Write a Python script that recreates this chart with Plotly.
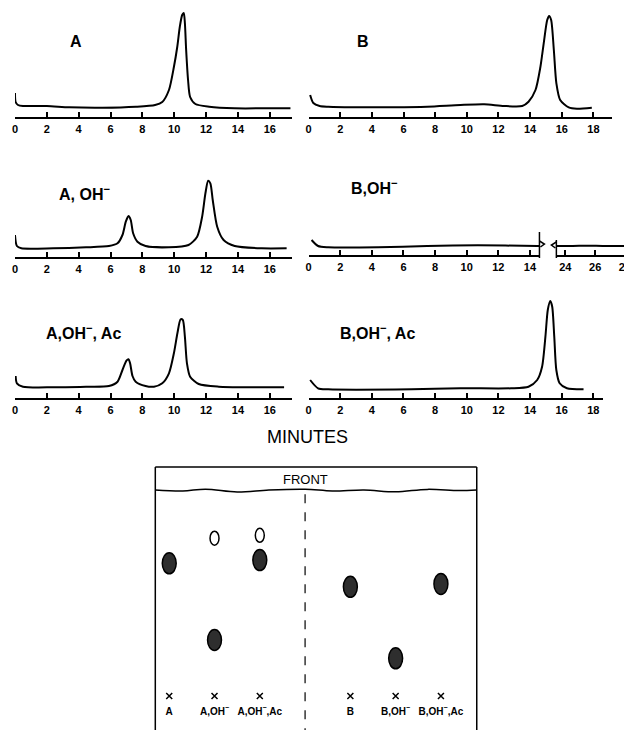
import plotly.graph_objects as go

# window is 632x730; the page body adds an 8px margin, so the figure is 624x722
OFF = 8
W, H = 632 - OFF, 730 - OFF

# ---------------- data ----------------
# Panel A
a_t = [0, 0.04, 0.19, 0.5, 2, 3.4, 5.5, 7.6, 8.8, 9.25, 9.67, 9.98, 10.19, 10.35, 10.5, 10.6,
       10.67, 10.75, 10.87, 11.0, 11.33, 12.2, 13.8, 15.9, 17.3]
a_r = [24, 15, 12, 11, 11, 9.7, 9.3, 10.3, 12, 15, 27, 50, 70, 90, 102, 104,
       94, 67, 37, 20, 13, 10.3, 8.7, 8.7, 8.7]
# Panel B
b_t = [0.1, 0.3, 0.7, 1.24, 3.33, 5.4, 7.5, 9.6, 11.1, 12.35, 13.5, 13.9, 14.34, 14.65, 14.86,
       15.08, 15.2, 15.33, 15.5, 15.66, 15.9, 16.44, 16.96, 17.9]
b_r = [22, 14, 11, 10.3, 9.7, 9.7, 10.3, 12, 12.7, 11, 11, 15.3, 27, 50, 73.7,
       97, 101, 97, 67, 33.7, 17, 9.7, 8.3, 9.3]
# Panel A, OH-
aoh_t = [0, 0.12, 0.4, 2.4, 4.46, 5.9, 6.44, 6.75, 6.96, 7.13, 7.27, 7.42, 7.69, 8.2, 9.67,
         10.9, 11.44, 11.75, 11.96, 12.13, 12.27, 12.42, 12.7, 13.1, 13.8, 15.5, 17.06]
aoh_r = [22, 11, 8.7, 8.7, 9.7, 11, 13.7, 22, 35.3, 41, 37, 23.7, 15.3, 11, 9.7,
         12, 20.3, 40, 63.7, 76.3, 73.7, 57, 30.3, 17, 11, 8.7, 8.7]
# Panel B, OH- (broken time axis)
boh1_t = [0.19, 0.6, 1.24, 4.4, 7.5, 10.7, 14.45, 14.6]
boh1_r = [15, 9, 7.7, 7.7, 9, 9.7, 9, 9]
boh2_t = [23.4, 24.5, 25.5, 26.5, 27.5, 28.47]
boh2_r = [9, 9, 9.3, 9, 9, 9]
# Panel A, OH-, Ac
aac_t = [0.04, 0.12, 0.5, 2.4, 4.46, 5.9, 6.44, 6.75, 7.0, 7.13, 7.23, 7.38, 7.58, 8.2, 8.73,
         9.25, 9.67, 9.98, 10.2, 10.4, 10.54, 10.67, 10.8, 11.0, 11.54, 12.8, 14.9, 16.9]
aac_r = [22, 14.7, 11.3, 10.7, 11.3, 12, 16.3, 28, 37.3, 38.7, 34.7, 22, 16.3, 12, 11.3,
         14.7, 24.7, 44.7, 64.7, 78.7, 78, 61.3, 34.7, 21.3, 14, 11.3, 10.7, 10.7]
# Panel B, OH-, Ac
bac_t = [0.1, 0.6, 1.24, 6.5, 9.6, 12.8, 13.9, 14.45, 14.76, 14.97, 15.12, 15.28, 15.4, 15.53,
         15.66, 15.87, 16.33, 17.38]
bac_r = [18, 9.7, 8.7, 8.7, 9.7, 9.7, 11.3, 18, 31.3, 61.3, 88, 97, 91.3, 61.3,
         28, 14.7, 9.7, 8.7]

panel_titles = ["A", "B", "A, OH<sup>−</sup>", "B,OH<sup>−</sup>",
                "A,OH<sup>−</sup>, Ac", "B,OH<sup>−</sup>, Ac"]
x_title = "MINUTES"

# TLC plate
lane_pos = [0, 1, 2, 4, 5, 6]
lane_labels = ["A", "A,OH<sup>−</sup>", "A,OH<sup>−</sup>,Ac", "B", "B,OH<sup>−</sup>", "B,OH<sup>−</sup>,Ac"]
spot_x = [0, 1, 1, 2, 2, 4, 5, 6]
spot_rf = [0.644, 0.766, 0.272, 0.78, 0.66, 0.53, 0.183, 0.544]
spot_filled = [True, False, True, False, True, True, True, True]
front_x = [-0.31, 0.3, 0.8, 1.5, 2.2, 3.0, 3.6, 4.3, 5.0, 5.7, 6.4, 6.79]
front_rf = [1.0, 0.995, 1.004, 0.99, 1.0, 1.004, 0.995, 1.0, 0.991, 1.003, 0.997, 1.0]
plate_label = "FRONT"

# ---------------- layout helpers (window pixels -> paper) ----------------
def px2x(p):
    return (p - OFF) / W

def px2y(p):
    return 1 - (p - OFF) / H

def xd(p0, p1):
    return [max(0, px2x(p0)), min(1, px2x(p1))]

def yd(pb, pt):
    return [max(0, px2y(pb)), min(1, px2y(pt))]

FONT = "Liberation Sans"
fig = go.Figure()

line_style = dict(color="black", width=2, shape="spline", smoothing=0.7)

panels = [
    (a_t, a_r, "", (12, 290.4), (117, 10), [0, 17.4]),
    (b_t, b_r, "2", (307, 612.3), (117, 10), [0, 19.2]),
    (aoh_t, aoh_r, "3", (12, 290.4), (257, 150), [0, 17.4]),
    (boh1_t, boh1_r, "4", (307, 539), (255, 148), [0, 14.6]),
    (boh2_t, boh2_r, "5", (556, 632), (255, 148), [23.4, 28.47]),
    (aac_t, aac_r, "6", (12, 290.4), (398, 291), [0, 17.4]),
    (bac_t, bac_r, "7", (307, 602.7), (398, 291), [0, 18.6]),
]

for t, r, s, xdp, ydp, xr in panels:
    fig.add_trace(go.Scatter(x=t, y=r, mode="lines", line=line_style, cliponaxis=False,
                             xaxis="x" + s, yaxis="y" + s, hoverinfo="skip"))
    fig.update_layout({
        "xaxis" + s: dict(domain=xd(*xdp), range=xr, anchor="y" + s, showline=True,
                          linecolor="black", linewidth=2, ticks="inside", ticklen=5,
                          tickwidth=1.5, tickcolor="black", tick0=0, dtick=2,
                          showgrid=False, zeroline=False, ticklabelstandoff=1,
                          tickvals=None,
                          tickfont=dict(family=FONT, size=11, color="black", weight=700)),
        "yaxis" + s: dict(domain=yd(*ydp), range=[0, 107], anchor="x" + s, visible=False),
    })
# last tick label of the broken axis is cut by the page edge in the original; keep it inside
fig.update_layout(xaxis5=dict(tickvals=[24, 26, 28], ticktext=["24", "26", "28"],
                              ticklabeloverflow="hide past div"))

# panel titles
title_pos = [(73, 42), (362, 42), (82, 193), (373, 187), (81, 332), (376, 332)]
for txt, (px, py) in zip(panel_titles, title_pos):
    fig.add_annotation(x=px2x(px), y=px2y(py), xref="paper", yref="paper", text=txt,
                       xanchor="center", yanchor="middle", showarrow=False,
                       font=dict(family=FONT, size=16, color="black", weight=700))

fig.add_annotation(x=px2x(306), y=px2y(437), xref="paper", yref="paper", text=x_title,
                   xanchor="center", yanchor="middle", showarrow=False,
                   font=dict(family=FONT, size=18, color="black"))

# break marks for the B, OH- axis
def ppath(pts):
    return "M " + " L ".join(f"{px2x(x)},{px2y(y)}" for x, y in pts)

for pts in ([(539, 232), (539, 258)], [(556, 240), (556, 258)],
            [(539, 241), (544, 244), (540, 247)], [(556, 242), (551, 245), (555, 248)]):
    fig.add_shape(type="path", path=ppath(pts), xref="paper", yref="paper",
                  line=dict(color="black", width=1.5))

# ---------------- TLC plate ----------------
PX_PER_LANE, PX_PER_RF = 45.5, 206
fig.update_layout(
    xaxis8=dict(domain=xd(153, 476), range=[(153 - 167) / PX_PER_LANE, (476 - 167) / PX_PER_LANE],
                anchor="y8", visible=False),
    yaxis8=dict(domain=yd(730, 467), range=[(696 - 730) / PX_PER_RF, (696 - 467) / PX_PER_RF],
                anchor="x8", visible=False),
)

# plate outline
for x0, y0, x1, y1 in ((0, 0, 0, 1), (1, 0, 1, 1), (0, 1, 1, 1)):
    fig.add_shape(type="line", xref="x8 domain", yref="y8 domain", x0=x0, y0=y0, x1=x1, y1=y1,
                  line=dict(color="black", width=1.5))

# solvent front
fig.add_trace(go.Scatter(x=front_x, y=front_rf, mode="lines", xaxis="x8", yaxis="y8",
                         line=dict(color="black", width=1.5, shape="spline"), hoverinfo="skip"))
fig.add_annotation(x=3, y=1.05, xref="x8", yref="y8", text=plate_label, showarrow=False,
                   xanchor="center", yanchor="middle",
                   font=dict(family=FONT, size=13, color="black"))

# divider between A and B lanes
fig.add_shape(type="line", xref="x8", yref="y8", x0=(lane_pos[2] + lane_pos[3]) / 2,
              x1=(lane_pos[2] + lane_pos[3]) / 2, y0=-0.2, y1=0.98,
              line=dict(color="black", width=1.2, dash="dash"))

# spots
FW, FH = 14 / PX_PER_LANE, 21 / PX_PER_RF
OW, OH = 9 / PX_PER_LANE, 14 / PX_PER_RF
for x, rf, filled in zip(spot_x, spot_rf, spot_filled):
    w, h = (FW, FH) if filled else (OW, OH)
    fig.add_shape(type="circle", xref="x8", yref="y8", x0=x - w / 2, x1=x + w / 2,
                  y0=rf - h / 2, y1=rf + h / 2,
                  fillcolor="#2e2e2e" if filled else "rgba(0,0,0,0)",
                  line=dict(color="black", width=1.5))

# origin marks and lane labels
fig.add_trace(go.Scatter(x=lane_pos, y=[0] * len(lane_pos), mode="markers", xaxis="x8", yaxis="y8",
                         marker=dict(symbol="x-thin", size=6, line=dict(color="black", width=1.5)),
                         hoverinfo="skip"))
fig.add_trace(go.Scatter(x=lane_pos, y=[-0.078] * len(lane_pos), mode="text", text=lane_labels,
                         xaxis="x8", yaxis="y8", hoverinfo="skip",
                         textfont=dict(family=FONT, size=10, color="black", weight=700)))

fig.update_layout(width=W, height=H, autosize=False, showlegend=False,
                  margin=dict(l=0, r=0, t=0, b=0),
                  plot_bgcolor="white", paper_bgcolor="white")

fig.write_html("out.html")
